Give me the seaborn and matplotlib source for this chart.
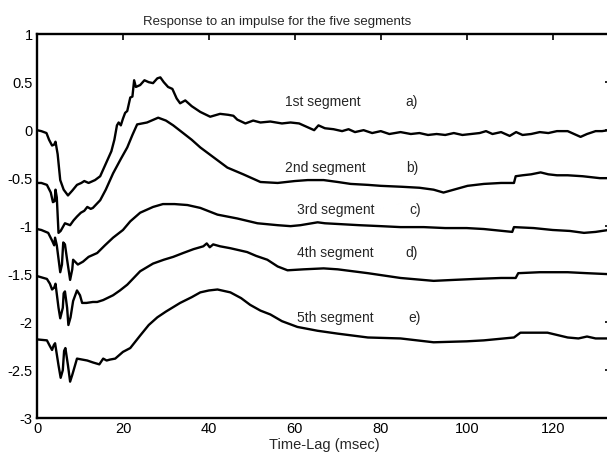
import numpy as np
import pandas as pd
import matplotlib
matplotlib.use('Agg')
import matplotlib.pyplot as plt
import seaborn as sns

# values (time-lag in msec, response)
t_a = [0, 1.0, 2.2, 2.8, 3.5, 4.0, 4.3, 4.8, 5.4, 6.2, 7.2, 8.2, 9.3, 10.3, 11.0, 12.0,
       13.5, 14.7, 15.5, 16.5, 17.3, 18.0, 18.6, 19.0, 19.5, 20.0, 20.5, 21.0, 21.7, 22.2,
       22.6, 23.0, 24.0, 25.0, 26.0, 27.0, 28.0, 28.7, 29.5, 30.5, 31.5, 32.5, 33.3, 34.5,
       36.0, 38.0, 40.3, 42.6, 44.5, 45.7, 46.6, 48.5, 50.3, 52, 54.3, 57, 59, 61, 63, 64.5,
       65.5, 67, 69, 71, 72.5, 74, 76, 78, 80, 82, 84.6, 87, 89, 91, 93, 95, 97, 99, 101,
       103, 104.5, 106, 108, 110, 111.5, 113, 115, 117, 119, 121, 123.5, 125, 126.5, 128,
       130, 131.5, 133]
v_a = [0.0, -0.01, -0.03, -0.10, -0.16, -0.15, -0.12, -0.25, -0.52, -0.62, -0.68, -0.63,
       -0.57, -0.55, -0.53, -0.55, -0.52, -0.48, -0.40, -0.30, -0.22, -0.10, 0.05, 0.08,
       0.05, 0.12, 0.18, 0.20, 0.34, 0.35, 0.52, 0.45, 0.47, 0.52, 0.50, 0.49, 0.54, 0.55,
       0.50, 0.45, 0.43, 0.33, 0.28, 0.31, 0.25, 0.19, 0.14, 0.17, 0.16, 0.15, 0.11, 0.07,
       0.10, 0.08, 0.09, 0.07, 0.08, 0.07, 0.03, 0.0, 0.05, 0.02, 0.01, -0.01, 0.01, -0.02,
       0.0, -0.03, -0.01, -0.04, -0.02, -0.04, -0.03, -0.05, -0.04, -0.05, -0.03, -0.05,
       -0.04, -0.03, -0.01, -0.04, -0.02, -0.06, -0.02, -0.05, -0.04, -0.02, -0.03, -0.01,
       -0.01, -0.04, -0.07, -0.04, -0.01, -0.01, 0.0]

t_b = [0, 1, 2.3, 3.2, 3.7, 4.1, 4.3, 4.6, 5.0, 5.5, 6.5, 7.7, 8.5, 9.3, 10.2, 11.0, 11.7,
       12.5, 13, 14.7, 16, 17.7, 19.5, 21, 22.2, 23.3, 25.6, 28.2, 30, 31.7, 34, 36, 38, 41,
       44.3, 48, 52, 56, 60, 63, 66.7, 70, 73, 77, 80, 85, 89, 92.3, 94.6, 97, 100.2, 104,
       108, 111.0, 111.4, 113, 115, 117.2, 119, 121, 123.5, 127, 131, 133]
v_b = [-0.55, -0.55, -0.57, -0.65, -0.75, -0.74, -0.62, -0.70, -1.07, -1.05, -0.97, -0.99,
       -0.94, -0.90, -0.86, -0.84, -0.80, -0.82, -0.81, -0.73, -0.62, -0.45, -0.30, -0.18,
       -0.05, 0.06, 0.08, 0.13, 0.10, 0.05, -0.03, -0.10, -0.18, -0.28, -0.39, -0.46, -0.54,
       -0.55, -0.53, -0.52, -0.52, -0.54, -0.56, -0.57, -0.58, -0.59, -0.60, -0.62, -0.65,
       -0.62, -0.58, -0.56, -0.55, -0.55, -0.48, -0.47, -0.46, -0.44, -0.46, -0.47, -0.47,
       -0.48, -0.50, -0.50]

t_c = [0, 1, 2.6, 3.5, 4.0, 4.2, 4.6, 5.4, 5.8, 6.1, 6.5, 7.0, 7.7, 8.2, 8.4, 9.5, 10.7,
       12, 14, 15.8, 17.7, 20, 21.7, 24, 27, 29.3, 32, 35, 38, 42, 46.6, 51.3, 56, 59, 61.3,
       65.3, 67, 71, 75, 80, 84.6, 90, 95, 100, 104, 110.6, 111.0, 115.6, 120, 124, 127.3,
       130, 133]
v_c = [-1.03, -1.04, -1.07, -1.15, -1.20, -1.12, -1.20, -1.48, -1.40, -1.17, -1.19, -1.35,
       -1.56, -1.45, -1.35, -1.40, -1.37, -1.32, -1.28, -1.20, -1.12, -1.04, -0.95, -0.86,
       -0.80, -0.77, -0.77, -0.78, -0.81, -0.88, -0.92, -0.97, -0.99, -1.00, -0.99, -0.96,
       -0.97, -0.98, -0.99, -1.00, -1.01, -1.01, -1.02, -1.02, -1.03, -1.06, -1.01, -1.02,
       -1.04, -1.05, -1.07, -1.06, -1.04]

t_d = [0, 2.3, 3.0, 3.5, 4.0, 4.3, 5.0, 5.4, 6.0, 6.2, 6.5, 7.0, 7.3, 7.8, 8.4, 9.3, 10,
       10.5, 11.5, 13, 14, 15.4, 17.7, 19.3, 21, 24, 27, 29.5, 31.7, 34, 36.4, 38.7, 39.5,
       40.2, 41, 42.6, 45, 48.9, 51, 53.6, 56, 58.3, 62, 66.7, 70, 77, 84.6, 92.3, 97, 102,
       108, 111.4, 112, 117, 123.5, 128, 133]
v_d = [-1.52, -1.55, -1.60, -1.66, -1.64, -1.60, -1.85, -1.96, -1.85, -1.70, -1.68, -1.85,
       -2.03, -1.95, -1.78, -1.67, -1.72, -1.80, -1.80, -1.79, -1.79, -1.77, -1.72, -1.67,
       -1.61, -1.47, -1.39, -1.35, -1.32, -1.28, -1.24, -1.21, -1.18, -1.22, -1.19, -1.21,
       -1.23, -1.27, -1.31, -1.35, -1.42, -1.46, -1.45, -1.44, -1.45, -1.49, -1.54, -1.57,
       -1.56, -1.55, -1.54, -1.54, -1.49, -1.48, -1.48, -1.49, -1.50]

t_e = [0, 2.3, 3.0, 3.5, 3.9, 4.2, 5.0, 5.5, 6.0, 6.3, 6.6, 7.2, 7.7, 8.2, 9.3, 10.5, 11.7,
       13, 14.5, 15.4, 16.2, 17, 18.2, 20, 21.7, 24, 26, 28, 30, 33.3, 36, 38, 40, 42, 45,
       47.5, 49.6, 52, 54.3, 57, 60.6, 65.3, 70, 77, 84.6, 92.3, 100, 104, 111, 112.5, 118.8,
       123.5, 126, 128, 130, 133]
v_e = [-2.18, -2.19, -2.25, -2.29, -2.24, -2.22, -2.45, -2.58, -2.50, -2.30, -2.27, -2.45,
       -2.62, -2.55, -2.38, -2.39, -2.40, -2.42, -2.44, -2.38, -2.40, -2.39, -2.38, -2.31,
       -2.27, -2.14, -2.03, -1.95, -1.89, -1.80, -1.74, -1.69, -1.67, -1.66, -1.69, -1.75,
       -1.82, -1.88, -1.92, -1.99, -2.05, -2.09, -2.12, -2.16, -2.17, -2.21, -2.20, -2.19,
       -2.16, -2.11, -2.11, -2.16, -2.17, -2.15, -2.17, -2.17]

segment_names = ['1st segment', '2nd segment', '3rd segment', '4th segment', '5th segment']
segment_tags = ['a)', 'b)', 'c)', 'd)', 'e)']
label_t = [57.8, 57.8, 60.6, 60.6, 60.4]
label_v = [0.29, -0.39, -0.83, -1.28, -1.96]
tag_t = [85.8, 85.8, 86.7, 85.8, 86.5]

y_ticks = [-3, -2.5, -2, -1.5, -1, -0.5, 0, 0.5, 1]
y_tick_labels = ['-3', '-2.5', '-2', '-1.5', '-1', '-0.5', '0', '0.5', '1']
x_ticks = [0, 20, 40, 60, 80, 100, 120]

frames = []
for name, t, v in zip(segment_names, [t_a, t_b, t_c, t_d, t_e], [v_a, v_b, v_c, v_d, v_e]):
    frames.append(pd.DataFrame({'t': t, 'v': v, 'segment': name}))
df = pd.concat(frames, ignore_index=True)

sns.set_style('white')
plt.rcParams['font.family'] = ['Liberation Sans', 'DejaVu Sans']
plt.rcParams['axes.unicode_minus'] = False

fig = plt.figure(figsize=(6.07, 4.62), dpi=100)
# right spine sits just past the image edge, as in the cropped scan
ax = fig.add_axes([0.061, 0.095, 0.945, 0.831])

sns.lineplot(data=df, x='t', y='v', units='segment', estimator=None,
             color='black', linewidth=1.7, ax=ax, legend=False)

for name, tag, lt, lv, tt in zip(segment_names, segment_tags, label_t, label_v, tag_t):
    ax.text(lt, lv, name, fontsize=10, ha='left', va='center')
    ax.text(tt, lv, tag, fontsize=10, ha='left', va='center')

ax.set_xlim(0, 133.5)
ax.set_ylim(-3, 1)
ax.set_xticks(x_ticks)
ax.set_yticks(y_ticks)
ax.set_yticklabels(y_tick_labels)
ax.tick_params(direction='in', length=4, width=1.2, top=True, right=True,
               labelsize=10.5, pad=3, colors='black')
for sp in ax.spines.values():
    sp.set_linewidth(1.7)
    sp.set_color('black')

ax.set_xlabel('Time-Lag (msec)', fontsize=10.5, labelpad=1)
ax.set_ylabel('')
ax.text(0.418, 1.024, 'Response to an impulse for the five segments',
        transform=ax.transAxes, ha='center', va='baseline', fontsize=9.5)

fig.savefig('out.png', dpi=100)
